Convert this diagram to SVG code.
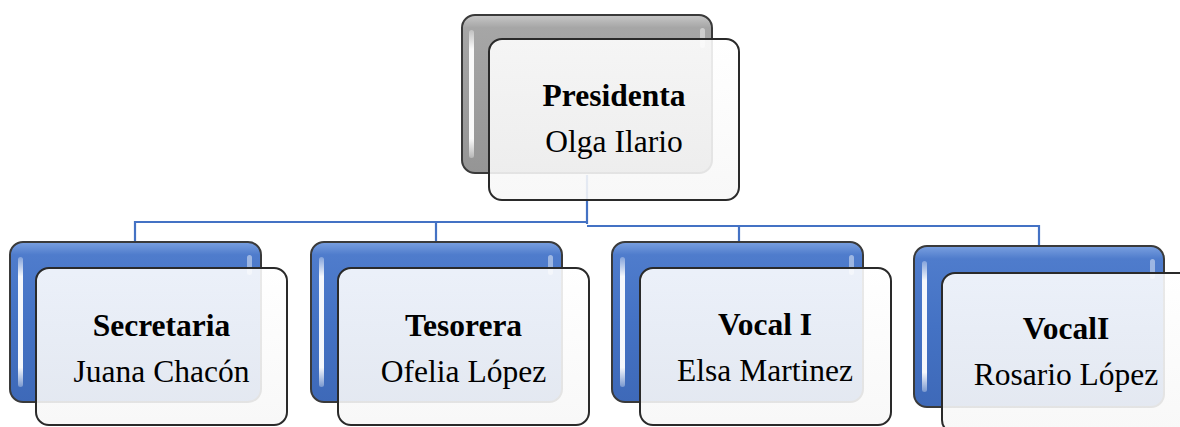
<svg xmlns="http://www.w3.org/2000/svg" width="1180" height="427" viewBox="0 0 1180 427">
<defs>
<linearGradient id="gBlue" x1="0" y1="0" x2="0" y2="1">
<stop offset="0" stop-color="#7aa0e0"/>
<stop offset="0.08" stop-color="#4f7ccc"/>
<stop offset="0.5" stop-color="#4472c4"/>
<stop offset="1" stop-color="#3e69b8"/>
</linearGradient>
<linearGradient id="gGray" x1="0" y1="0" x2="0" y2="1">
<stop offset="0" stop-color="#c8c8c8"/>
<stop offset="0.08" stop-color="#a6a6a6"/>
<stop offset="0.5" stop-color="#9e9e9e"/>
<stop offset="1" stop-color="#959595"/>
</linearGradient>
<linearGradient id="gStrip" x1="0" y1="0" x2="0" y2="1">
<stop offset="0" stop-color="#ffffff" stop-opacity="0.3"/>
<stop offset="0.15" stop-color="#ffffff" stop-opacity="0.95"/>
<stop offset="0.85" stop-color="#ffffff" stop-opacity="0.95"/>
<stop offset="1" stop-color="#ffffff" stop-opacity="0.3"/>
</linearGradient>
<linearGradient id="gFront" x1="0" y1="0" x2="0" y2="1">
<stop offset="0" stop-color="#ffffff"/>
<stop offset="1" stop-color="#f7f7f7"/>
</linearGradient>
</defs>
<style>
.back{stroke:#3a3a3a;stroke-width:2}
.blue{fill:url(#gBlue)}
.gray{fill:url(#gGray)}
.strip{fill:url(#gStrip)}
.stripR{fill:#ffffff;fill-opacity:0.45}
.front{fill:url(#gFront);fill-opacity:0.89;stroke:#2a2a2a;stroke-width:2}
.conn{stroke:#4472c4;stroke-width:2.2;fill:none}
.title{font-family:"Liberation Serif","Times New Roman",serif;font-weight:bold;font-size:31.5px;fill:#000;text-anchor:middle}
.name{font-family:"Liberation Serif","Times New Roman",serif;font-size:31.5px;fill:#000;text-anchor:middle}
</style>
<g id="connectors">
<path class="conn" d="M587,175 V224"/>
<path class="conn" d="M135,242 V222 H587"/>
<path class="conn" d="M436,222 V242"/>
<path class="conn" d="M587,226 H1039 V247"/>
<path class="conn" d="M739,226 V242"/>
</g>
<g id="presidenta">
<rect class="back gray" x="462" y="15" width="250" height="158" rx="13"/>
<rect class="strip" x="469" y="30" width="5" height="128" rx="2.5"/>
<rect class="stripR" x="700" y="28" width="5" height="20" rx="2.5"/>
<rect class="front" x="489" y="39" width="250" height="161" rx="13"/>
<text class="title" x="614" y="106">Presidenta</text>
<text class="name" x="614" y="152">Olga Ilario</text>
</g>
<g id="secretaria">
<rect class="back blue" x="10" y="242" width="251" height="160" rx="13"/>
<rect class="strip" x="18" y="257" width="5" height="130" rx="2.5"/>
<rect class="stripR" x="247" y="255" width="5" height="20" rx="2.5"/>
<rect class="front" x="36" y="268" width="251" height="157" rx="13"/>
<text class="title" x="161.5" y="336">Secretaria</text>
<text class="name" x="161.5" y="382">Juana Chacón</text>
</g>
<g id="tesorera">
<rect class="back blue" x="311" y="242" width="251" height="160" rx="13"/>
<rect class="strip" x="319" y="257" width="5" height="130" rx="2.5"/>
<rect class="stripR" x="548" y="255" width="5" height="20" rx="2.5"/>
<rect class="front" x="338" y="268" width="251" height="157" rx="13"/>
<text class="title" x="463.5" y="336">Tesorera</text>
<text class="name" x="463.5" y="382">Ofelia López</text>
</g>
<g id="vocal1">
<rect class="back blue" x="612" y="242" width="251" height="160" rx="13"/>
<rect class="strip" x="620" y="257" width="5" height="130" rx="2.5"/>
<rect class="stripR" x="849" y="255" width="5" height="20" rx="2.5"/>
<rect class="front" x="640" y="268" width="251" height="157" rx="13"/>
<text class="title" x="765" y="335">Vocal I</text>
<text class="name" x="765" y="381">Elsa Martinez</text>
</g>
<g id="vocal2">
<rect class="back blue" x="914" y="246" width="250" height="161" rx="13"/>
<rect class="strip" x="922" y="261" width="5" height="131" rx="2.5"/>
<rect class="stripR" x="1150" y="259" width="5" height="20" rx="2.5"/>
<rect class="front" x="942" y="273" width="251" height="160" rx="13"/>
<text class="title" x="1066" y="339">VocalI</text>
<text class="name" x="1066" y="385">Rosario López</text>
</g>
</svg>
